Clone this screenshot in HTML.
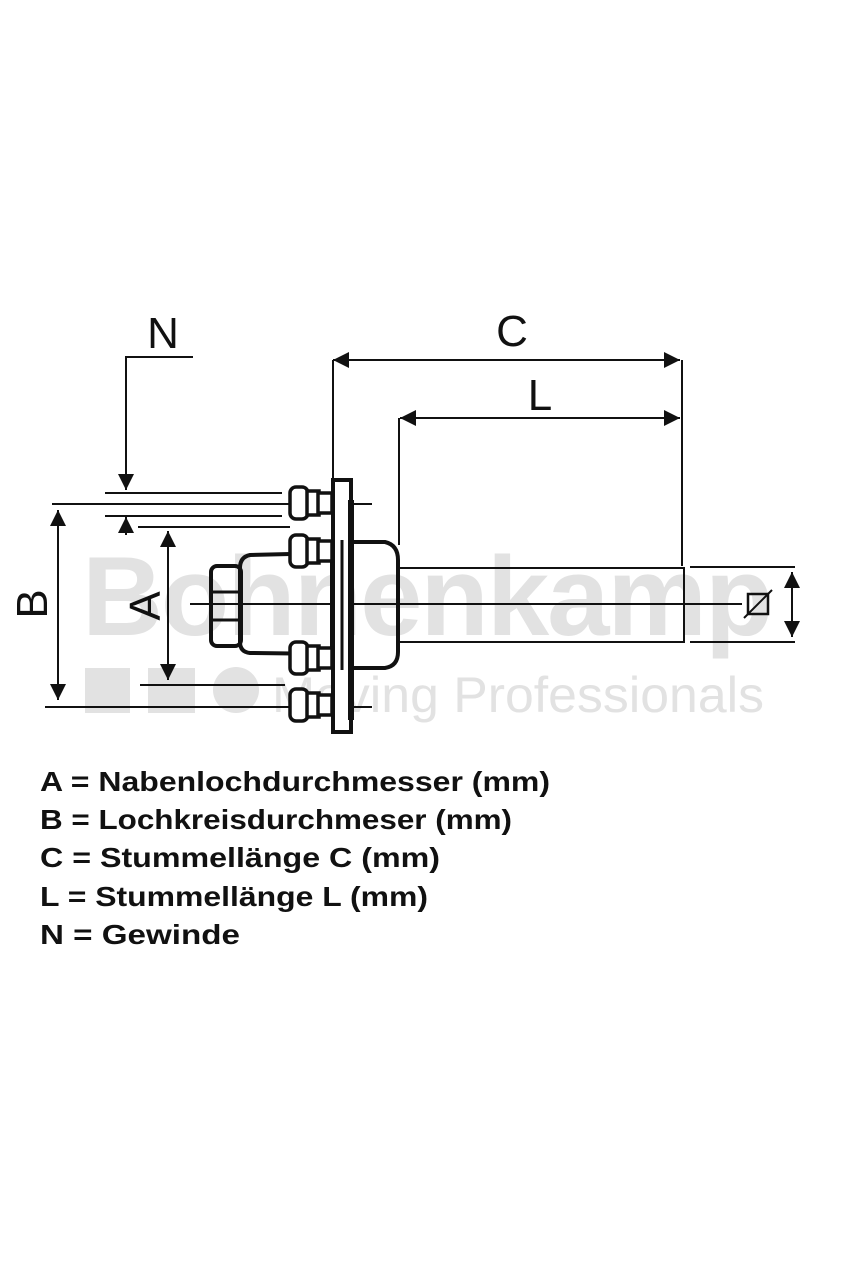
<!DOCTYPE html>
<html><head><style>
body{margin:0;background:#fff;}
svg{display:block}
</style></head><body>
<svg width="850" height="1275" xmlns="http://www.w3.org/2000/svg" font-family="Liberation Sans, sans-serif">
<defs>
<marker id="ar" viewBox="0 0 10 10" refX="10" refY="5" markerWidth="16" markerHeight="16" markerUnits="userSpaceOnUse" orient="auto-start-reverse"><path d="M0,0 L10,5 L0,10 z" fill="#111"/></marker>
</defs>
<g fill="#e2e2e2">
<text x="82" y="635" font-size="112" font-weight="bold" letter-spacing="-2">Bohnenkamp</text>
<rect x="85" y="668" width="45" height="45"/><rect x="148" y="668" width="47" height="45"/><circle cx="236" cy="690" r="23"/>
<text x="272" y="712" font-size="50" textLength="492" lengthAdjust="spacingAndGlyphs">Moving Professionals</text>
</g>
<g stroke="#111" stroke-width="2" fill="none">
<line x1="333" y1="360" x2="680" y2="360" marker-start="url(#ar)" marker-end="url(#ar)"/>
<line x1="333" y1="360" x2="333" y2="480"/>
<line x1="682" y1="360" x2="682" y2="566"/>
<line x1="400" y1="418" x2="680" y2="418" marker-start="url(#ar)" marker-end="url(#ar)"/>
<line x1="399" y1="418" x2="399" y2="545"/>
<polyline points="193,357 126,357 126,490" marker-end="url(#ar)"/>
<line x1="126" y1="535" x2="126" y2="517" marker-end="url(#ar)"/>
<line x1="105" y1="493" x2="282" y2="493"/>
<line x1="52" y1="504" x2="372" y2="504"/>
<line x1="105" y1="516" x2="282" y2="516"/>
<line x1="138" y1="527" x2="290" y2="527"/>
<line x1="58" y1="510" x2="58" y2="700" marker-start="url(#ar)" marker-end="url(#ar)"/>
<line x1="45" y1="707" x2="372" y2="707"/>
<line x1="168" y1="531" x2="168" y2="680" marker-start="url(#ar)" marker-end="url(#ar)"/>
<line x1="140" y1="685" x2="285" y2="685"/>
<line x1="190" y1="604" x2="742" y2="604"/>
<rect x="399" y="568" width="285" height="74"/>
<line x1="690" y1="567" x2="795" y2="567"/>
<line x1="690" y1="642" x2="795" y2="642"/>
<line x1="792" y1="572" x2="792" y2="637" marker-start="url(#ar)" marker-end="url(#ar)"/>
<rect x="748" y="594" width="20" height="20" stroke-width="2.5"/>
<line x1="744" y1="618" x2="772" y2="590"/>
</g>
<g stroke="#111" stroke-width="4" fill="none">
<path d="M352 542 L385 542 Q398 545 398 560 L398 652 Q398 666 385 668 L352 668 Z"/>
<path d="M332 553 L250 555 Q240 557 240 568 L240 642 Q240 652 250 653 L332 654 Z"/>
<rect x="211" y="566" width="30" height="80" rx="6"/>
<line x1="211" y1="592" x2="240" y2="592" stroke-width="3"/>
<line x1="211" y1="620" x2="240" y2="620" stroke-width="3"/>
<rect x="333" y="480" width="18" height="252" fill="#fff"/>
<line x1="342" y1="540" x2="342" y2="670" stroke-width="3"/>
<line x1="351" y1="500" x2="351" y2="720" stroke-width="6"/>
</g>
<g stroke="#111" stroke-width="3.5" fill="#fff">
<g transform="translate(0,503)"><rect x="290" y="-16" width="18" height="32" rx="6"/><rect x="307" y="-12" width="12" height="24"/><rect x="318" y="-10" width="14" height="20"/></g>
<g transform="translate(0,551)"><rect x="290" y="-16" width="18" height="32" rx="6"/><rect x="307" y="-12" width="12" height="24"/><rect x="318" y="-10" width="14" height="20"/></g>
<g transform="translate(0,658)"><rect x="290" y="-16" width="18" height="32" rx="6"/><rect x="307" y="-12" width="12" height="24"/><rect x="318" y="-10" width="14" height="20"/></g>
<g transform="translate(0,705)"><rect x="290" y="-16" width="18" height="32" rx="6"/><rect x="307" y="-12" width="12" height="24"/><rect x="318" y="-10" width="14" height="20"/></g>
</g>
<g fill="#111" font-size="44">
<text x="163" y="348" text-anchor="middle">N</text>
<text x="512" y="346" text-anchor="middle">C</text>
<text x="540" y="410" text-anchor="middle">L</text>
<text transform="translate(47,604) rotate(-90)" text-anchor="middle">B</text>
<text transform="translate(160,606) rotate(-90)" text-anchor="middle">A</text>
</g>
<g fill="#111" font-size="28" font-weight="bold">
<text x="40" y="791" textLength="510" lengthAdjust="spacingAndGlyphs">A = Nabenlochdurchmesser (mm)</text>
<text x="40" y="829" textLength="472" lengthAdjust="spacingAndGlyphs">B = Lochkreisdurchmeser (mm)</text>
<text x="40" y="867" textLength="400" lengthAdjust="spacingAndGlyphs">C = Stummellänge C (mm)</text>
<text x="40" y="906" textLength="388" lengthAdjust="spacingAndGlyphs">L = Stummellänge L (mm)</text>
<text x="40" y="944" textLength="200" lengthAdjust="spacingAndGlyphs">N = Gewinde</text>
</g>
</svg>
</body></html>
